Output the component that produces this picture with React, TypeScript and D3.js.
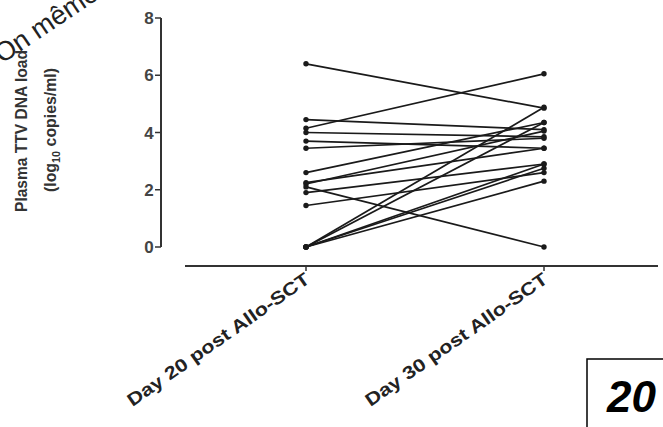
import * as d3 from 'd3';

const timepoints = ["Day 20 post Allo-SCT", "Day 30 post Allo-SCT"];
// log10 copies/ml per patient, paired day 20 -> day 30
const day20 = [6.4, 4.45, 4.15, 4.0, 3.7, 3.45, 2.6, 2.25, 2.2, 2.1, 1.9, 1.45, 0, 0, 0, 0, 0];
const day30 = [4.85, 4.1, 6.05, 3.85, 3.45, 3.8, 4.35, 3.45, 4.05, 0, 2.9, 2.6, 4.88, 4.35, 2.9, 2.75, 2.3];
const yTicks = [0, 2, 4, 6, 8];

const W = 663;
const H = 427;

export default function App() {
  const x = d3.scalePoint<string>().domain(timepoints).range([306, 544]);
  const y = d3.scaleLinear().domain([0, 8]).range([247, 18]);
  const line = d3.line<[string, number]>()
    .x(d => x(d[0])!)
    .y(d => y(d[1]));

  const pairs = day20.map((v, i) => [[timepoints[0], v], [timepoints[1], day30[i]]] as [string, number][]);
  const axisColor = "#333";

  return (
    <svg width={W} height={H} style={{ position: 'absolute', left: 0, top: 0, background: '#fff' }}
      fontFamily="'Liberation Sans', Arial, sans-serif">
      {/* watermark fragment */}
      <text x={2} y={64} transform="rotate(-34 2 64)" fontSize={27} fill="#222">On même</text>

      {/* y axis */}
      <line x1={161} x2={161} y1={y(8)} y2={y(0)} stroke={axisColor} strokeWidth={2} />
      {yTicks.map(t => (
        <g key={t}>
          <line x1={155} x2={161} y1={y(t)} y2={y(t)} stroke={axisColor} strokeWidth={1.5} />
          <text x={149} y={y(t)} dy="0.36em" textAnchor="middle" fontSize={17} fontWeight="bold" fill="#444">{t}</text>
        </g>
      ))}

      {/* y label */}
      <g transform="translate(21,131) rotate(-90)">
        <text textAnchor="middle" dy="0.35em" fontSize={16} fontWeight="bold" fill="#333"
          textLength={162} lengthAdjust="spacingAndGlyphs">Plasma TTV DNA load</text>
      </g>
      <g transform="translate(50,130) rotate(-90)">
        <text textAnchor="middle" dy="0.35em" fontSize={16} fontWeight="bold" fill="#333"
          textLength={124} lengthAdjust="spacingAndGlyphs">
          (log<tspan fontSize={11} dy="4">10</tspan><tspan dy="-4"> copies/ml)</tspan>
        </text>
      </g>

      {/* x axis */}
      <line x1={185} x2={658} y1={266} y2={266} stroke={axisColor} strokeWidth={2} />
      {timepoints.map(tp => (
        <g key={tp}>
          <line x1={x(tp)!} x2={x(tp)!} y1={266} y2={271} stroke={axisColor} strokeWidth={1.5} />
          <text transform={`translate(${x(tp)! + 5},${282}) rotate(-35)`} textAnchor="end" fontSize={18}
            fontWeight="bold" fill="#222" textLength={218} lengthAdjust="spacingAndGlyphs">{tp}</text>
        </g>
      ))}

      {/* paired lines */}
      {pairs.map((p, i) => (
        <path key={i} d={line(p)!} fill="none" stroke="#1a1a1a" strokeWidth={1.7} />
      ))}
      {pairs.flat().map((d, i) => (
        <circle key={i} cx={x(d[0])!} cy={y(d[1])} r={2.7} fill="#1a1a1a" />
      ))}

      {/* panel number box */}
      <rect x={587} y={359} width={100} height={100} fill="#fff" stroke="#000" strokeWidth={1.5} />
      <text x={607} y={412} fontSize={44} fontWeight="bold" fontStyle="italic" fill="#000">20</text>
    </svg>
  );
}
